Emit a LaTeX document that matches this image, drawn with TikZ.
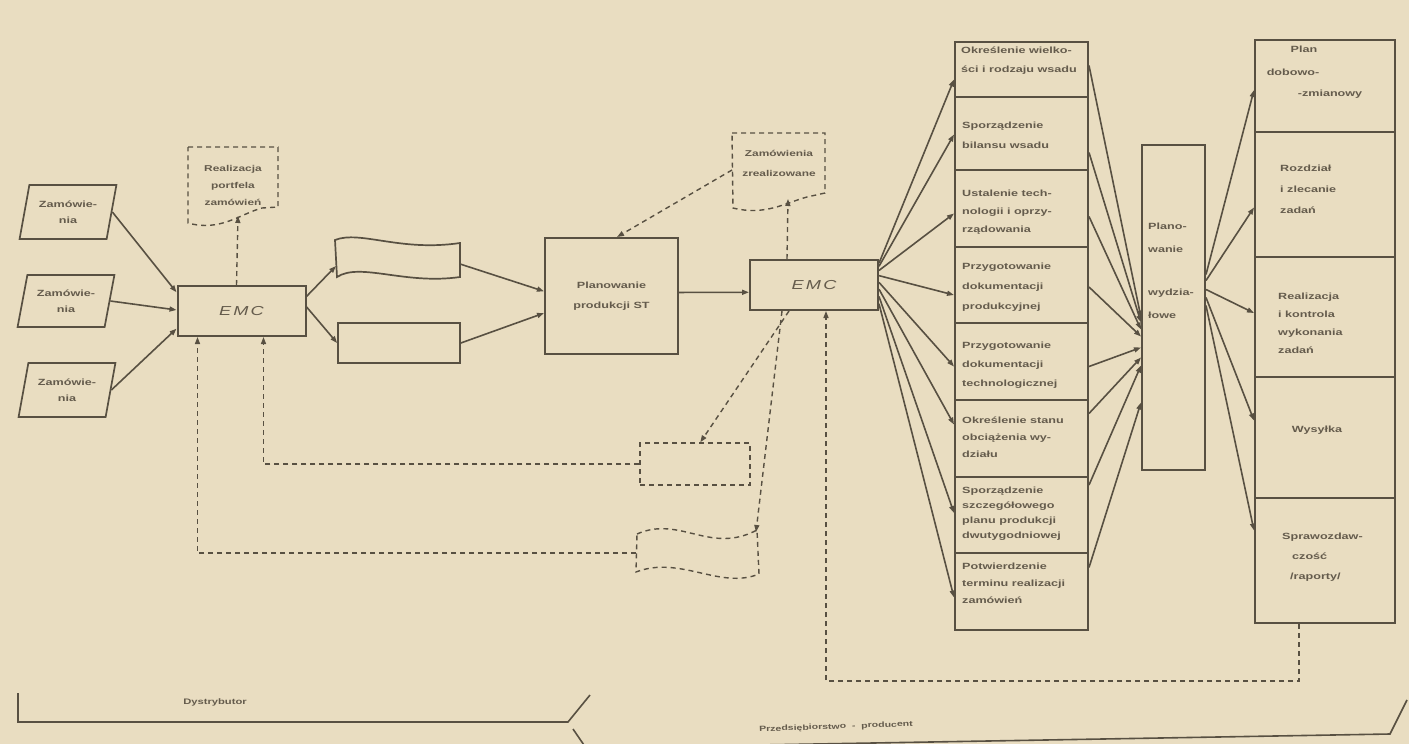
\documentclass[tikz,border=0pt]{standalone}
\usepackage{fontspec}
\setmainfont{Liberation Sans}[FakeStretch=1.4]
\usetikzlibrary{arrows.meta,shapes.geometric,calc}
\definecolor{paper}{RGB}{233,221,193}
\definecolor{ink}{RGB}{88,80,66}
\definecolor{pencil}{RGB}{100,91,76}
\begin{document}
\begin{tikzpicture}[x=1pt,y=-1pt,
  hand/.style={text=pencil,font=\bfseries\fontsize{9}{18}\selectfont,inner sep=0pt},
  box/.style={draw=ink,line width=2pt,inner sep=0pt},
  order/.style={trapezium,trapezium left angle=72,trapezium right angle=108,
    trapezium stretches=true,minimum width=97pt,minimum height=54pt,
    draw=ink,line width=1.7pt,hand,font=\bfseries\fontsize{9}{16}\selectfont,align=center},
  emc/.style={box,minimum width=128pt,minimum height=50pt,text=pencil,
    font=\itshape\fontsize{13}{13}\selectfont},
  colbox/.style={box,minimum width=133pt},
  resbox/.style={box,minimum width=140pt},
  flow/.style={ink,line width=1.6pt,-{Triangle[length=7pt,width=5pt]}},
  fb/.style={ink,line width=1.4pt,dash pattern=on 5pt off 4pt},
  fbarrow/.style={fb,-{Triangle[length=7pt,width=5pt]}},
  fbbox/.style={draw=ink,line width=1.4pt,dash pattern=on 5pt off 4pt,inner sep=0pt},
  lefttext/.style={hand,anchor=north west,align=left}
]
\fill[paper] (0,0) rectangle (1409,744);
\useasboundingbox (0,0) rectangle (1409,744);

% --- orders coming in
\node[order] (z1) at (68,212) {Zamówie-\\nia};
\node[order,minimum height=52pt] (z2) at (66,301) {Zamówie-\\nia};
\node[order] (z3) at (67,390) {Zamówie-\\nia};

% --- distributor EMC
\node[emc] (emc1) at (241.5,311) {E\,M\,C};

% portfolio of orders (document, dashed)
\draw[fb] (188,147) -- (278,147) -- (278,207) -- (262,208)
  .. controls (240,214) and (220,232) .. (188,223) -- cycle;
\node[hand,align=center,font=\bfseries\fontsize{8.5}{17}\selectfont] (rpz) at (233,185) {Realizacja\\portfela\\zamówień};
\coordinate (rpzb) at (238,216);

% two data carriers
\draw[ink,line width=1.7pt] (335,240) .. controls (360,230) and (400,252) .. (460,243)
  -- (460,277) .. controls (405,285) and (360,262) .. (337,277) -- cycle;
\coordinate (flagw) at (336,266);
\coordinate (flage) at (460,264);
\node[box,line width=1.7pt,minimum width=122pt,minimum height=40pt] (lst) at (399,343) {};

% production planning
\node[box,minimum width=133pt,minimum height=116pt,hand,align=center,
  font=\bfseries\fontsize{9}{20}\selectfont] (plp) at (611.5,296) {Planowanie\\produkcji ST};

% --- producer EMC
\node[emc] (emc2) at (814,285) {E\,M\,C};

% completed orders (document, dashed)
\draw[fb] (732,133) -- (825,133) -- (825,193) -- (807,197)
  .. controls (785,203) and (765,216) .. (733,208) -- cycle;
\node[hand,align=center,font=\bfseries\fontsize{8.5}{20}\selectfont] (zz) at (779,163) {Zamówienia\\zrealizowane};
\coordinate (zzb) at (788,199);
\coordinate (zzw) at (732,170);

% feedback carriers (dashed)
\node[fbbox,minimum width=110pt,minimum height=42pt] (fb1) at (695,464) {};
\draw[fb] (637,534) .. controls (680,515) and (710,555) .. (757,530)
  -- (759,574) .. controls (720,590) and (680,555) .. (636,572) -- cycle;
\coordinate (fb2w) at (636,553);
\coordinate (fb2n) at (756,532);

% --- preparation steps column
\node[colbox,minimum height=55pt] (c1) at (1021.5,69.5) {};
\node[colbox,minimum height=73pt] (c2) at (1021.5,133.5) {};
\node[colbox,minimum height=77pt] (c3) at (1021.5,208.5) {};
\node[colbox,minimum height=76pt] (c4) at (1021.5,285) {};
\node[colbox,minimum height=77pt] (c5) at (1021.5,361.5) {};
\node[colbox,minimum height=77pt] (c6) at (1021.5,438.5) {};
\node[colbox,minimum height=76pt] (c7) at (1021.5,515) {};
\node[colbox,minimum height=77pt] (c8) at (1021.5,591.5) {};

\node[lefttext,font=\bfseries\fontsize{9}{19}\selectfont] (t1) at (961,47) {Określenie wielko-\\ści i rodzaju wsadu};
\node[lefttext,font=\bfseries\fontsize{9}{20}\selectfont] (t2) at (962,122) {Sporządzenie\\bilansu wsadu};
\node[lefttext,font=\bfseries\fontsize{9}{18}\selectfont] (t3) at (962,190) {Ustalenie tech-\\nologii i oprzy-\\rządowania};
\node[lefttext,font=\bfseries\fontsize{9}{20}\selectfont] (t4) at (962,263) {Przygotowanie\\dokumentacji\\produkcyjnej};
\node[lefttext,font=\bfseries\fontsize{9}{19}\selectfont] (t5) at (962,342) {Przygotowanie\\dokumentacji\\technologicznej};
\node[lefttext,font=\bfseries\fontsize{9}{17}\selectfont] (t6) at (962,417) {Określenie stanu\\obciążenia wy-\\działu};
\node[lefttext,font=\bfseries\fontsize{9}{15}\selectfont] (t7) at (962,487) {Sporządzenie\\szczegółowego\\planu produkcji\\dwutygodniowej};
\node[lefttext,font=\bfseries\fontsize{9}{17}\selectfont] (t8) at (962,563) {Potwierdzenie\\terminu realizacji\\zamówień};

% --- departmental planning
\node[box,minimum width=63pt,minimum height=325pt] (wy) at (1173.5,307.5) {};
\node[lefttext,font=\bfseries\fontsize{9}{23}\selectfont] (wyt) at (1148,223) {Plano-\\wanie\\[20pt]wydzia-\\łowe};

% --- execution column
\node[resbox,minimum height=92pt] (r1) at (1325,86) {};
\node[resbox,minimum height=125pt] (r2) at (1325,194.5) {};
\node[resbox,minimum height=120pt] (r3) at (1325,317) {};
\node[resbox,minimum height=121pt] (r4) at (1325,437.5) {};
\node[resbox,minimum height=125pt] (r5) at (1325,560.5) {};

\node[hand] (s1a) at (1304,49) {Plan};
\node[hand] (s1b) at (1293,72) {dobowo-};
\node[hand] (s1c) at (1330,94) {-zmianowy};
\node[lefttext,font=\bfseries\fontsize{9}{21}\selectfont] (s2) at (1280,165) {Rozdział\\i zlecanie\\zadań};
\node[lefttext,font=\bfseries\fontsize{9}{18}\selectfont] (s3) at (1278,293) {Realizacja\\i kontrola\\wykonania\\zadań};
\node[hand] (s4) at (1317,430) {Wysyłka};
\node[lefttext,font=\bfseries\fontsize{9}{20}\selectfont] (s5) at (1282,533) {Sprawozdaw-\\\hspace*{10pt}czość\\\hspace*{8pt}/raporty/};

% --- solid flows
\draw[flow] (z1.east) -- ($(emc1.north west)!0.14!(emc1.south west)$);
\draw[flow] (z2.east) -- ($(emc1.north west)!0.48!(emc1.south west)$);
\draw[flow] (z3.east) -- ($(emc1.north west)!0.84!(emc1.south west)$);
\draw[flow] ($(emc1.north east)!0.22!(emc1.south east)$) -- (flagw);
\draw[flow] ($(emc1.north east)!0.42!(emc1.south east)$) -- (lst.west);
\draw[flow] (flage) -- ($(plp.north west)!0.46!(plp.south west)$);
\draw[flow] (lst.east) -- ($(plp.north west)!0.645!(plp.south west)$);
\draw[flow] ($(plp.north east)!0.47!(plp.south east)$) -- ($(emc2.north west)!0.64!(emc2.south west)$);

% EMC fan-out to the preparation steps
\draw[flow] ($(emc2.north east)!0.08!(emc2.south east)$) -- ($(c1.west)+(0,10)$);
\draw[flow] ($(emc2.north east)!0.14!(emc2.south east)$) -- ($(c2.west)+(0,1)$);
\draw[flow] ($(emc2.north east)!0.22!(emc2.south east)$) -- ($(c3.west)+(0,5)$);
\draw[flow] ($(emc2.north east)!0.32!(emc2.south east)$) -- ($(c4.west)+(0,10)$);
\draw[flow] ($(emc2.north east)!0.45!(emc2.south east)$) -- ($(c5.west)+(0,5)$);
\draw[flow] ($(emc2.north east)!0.58!(emc2.south east)$) -- ($(c6.west)+(0,-14)$);
\draw[flow] ($(emc2.north east)!0.72!(emc2.south east)$) -- ($(c7.west)+(0,-2)$);
\draw[flow] ($(emc2.north east)!0.86!(emc2.south east)$) -- ($(c8.west)+(0,6)$);

% steps into departmental planning
\draw[flow] ($(c1.east)+(0,-4)$) -- ($(wy.west)+(0,10)$);
\draw[flow] ($(c2.east)+(0,19)$) -- ($(wy.west)+(0,15)$);
\draw[flow] ($(c3.east)+(0,8)$) -- ($(wy.west)+(0,22)$);
\draw[flow] ($(c4.east)+(0,2)$) -- ($(wy.west)+(0,29)$);
\draw[flow] ($(c5.east)+(0,5)$) -- ($(wy.west)+(0,40)$);
\draw[flow] ($(c6.east)+(0,-25)$) -- ($(wy.west)+(0,50)$);
\draw[flow] ($(c7.east)+(0,-30)$) -- ($(wy.west)+(0,58)$);
\draw[flow] ($(c8.east)+(0,-24)$) -- ($(wy.west)+(0,95)$);

% departmental planning out to execution
\draw[flow] ($(wy.east)+(0,-33)$) -- ($(r1.west)+(0,4)$);
\draw[flow] ($(wy.east)+(0,-27)$) -- ($(r2.west)+(0,13)$);
\draw[flow] ($(wy.east)+(0,-18)$) -- ($(r3.west)+(0,-4)$);
\draw[flow] ($(wy.east)+(0,-10)$) -- ($(r4.west)+(0,-17)$);
\draw[flow] ($(wy.east)+(0,-2)$) -- ($(r5.west)+(0,-30)$);

% --- dashed information flows
\draw[fbarrow] ($(emc1.north west)+(60,0)$) -- (rpzb);
\draw[fbarrow] ($(emc2.north west)+(38,0)$) -- (zzb);
\draw[fbarrow] (zzw) -- ($(plp.north west)+(73,0)$);
\draw[fbarrow] ($(emc2.south west)+(40,0)$) -- ($(fb1.north west)+(61,0)$);
\draw[fbarrow] ($(emc2.south west)+(33,0)$) -- (fb2n);
\draw[fbarrow] (fb1.west) -| ($(emc1.south west)+(87,0)$);
\draw[fbarrow] (fb2w) -| ($(emc1.south west)+(21,0)$);
\draw[fbarrow] ($(r5.south west)+(45,0)$) -- ++(0,57) -| ($(emc2.south west)+(77,0)$);

% --- scope brackets
\draw[ink,line width=1.6pt] (18,693) -- (18,722) -- (568,722) -- (590,695);
\node[hand,font=\bfseries\fontsize{8}{8}\selectfont] (dys) at (215,702) {Dystrybutor};
\draw[ink,line width=1.6pt] (573,729) -- (586,748) -- (1390,734) -- (1407,700);
\node[hand,font=\bfseries\fontsize{7.5}{8}\selectfont,rotate=2] (prod) at (836,727) {Przedsiębiorstwo\ \ -\ \ producent};
\end{tikzpicture}
\end{document}
